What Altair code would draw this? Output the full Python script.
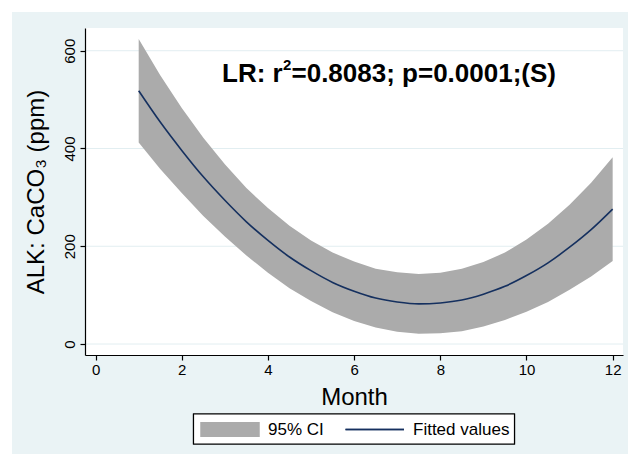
import altair as alt
import pandas as pd

# Quadratic fit of alkalinity against month, with its 95% confidence band
months = [1, 1.5, 2, 2.5, 3, 3.5, 4, 4.5, 5, 5.5, 6, 6.5,
          7, 7.5, 8, 8.5, 9, 9.5, 10, 10.5, 11, 11.5, 12]
fitted = [518, 454, 396, 342, 294, 250, 212, 178, 150, 126, 108, 94,
          86, 82, 84, 90, 102, 118, 140, 166, 198, 234, 276]
ci_upper = [624, 550, 483, 422, 368, 319, 278, 242, 212, 187, 169, 154,
            147, 143, 146, 154, 168, 187, 214, 246, 285, 330, 382]
ci_lower = [412, 358, 309, 262, 220, 181, 146, 114, 88, 65, 47, 34,
            25, 21, 22, 26, 36, 49, 66, 86, 111, 138, 170]

x_ticks = [0, 2, 4, 6, 8, 10, 12]
y_ticks = [0, 200, 400, 600]
legend_labels = ["95% CI", "Fitted values"]
# regression summary, split so the exponent can be raised
stat_parts = ["LR: r", "2", "=0.8083; p=0.0001;(S)"]

W, H = 538, 327
FONT = "Liberation Sans"
BG = "#EAF3F5"
GRID = "#E2EEF1"
BAND = "#ABABAB"
NAVY = "#15305F"

df = pd.DataFrame({"month": months, "fit": fitted, "lo": ci_lower, "hi": ci_upper})
grid_df = pd.DataFrame({"g": y_ticks})

x_scale = alt.Scale(domain=[-0.246, 12.24], nice=False, zero=False)
y_scale = alt.Scale(domain=[-22.5, 646.5], nice=False, zero=False)

x_axis = alt.Axis(values=x_ticks, grid=False, domainColor="black", tickColor="black",
                  tickSize=5, labelFontSize=15, labelColor="black", labelFont=FONT,
                  labelPadding=2, title="Month", titleFontSize=24, titleFont=FONT,
                  titleFontWeight="normal", titleColor="black", titleX=W / 2, titleY=49,
                  titleBaseline="alphabetic", zindex=1, domainWidth=1.2, tickWidth=1.2)
y_axis = alt.Axis(values=y_ticks, grid=False, domainColor="black", tickColor="black",
                  tickSize=5, labelFontSize=15, labelColor="black", labelFont=FONT,
                  labelAngle=270, labelPadding=3, title="ALK: CaCO₃ (ppm)",
                  titleFontSize=24, titleFont=FONT, titleFontWeight="normal",
                  titleColor="black", titleAngle=270, titleX=-42, titleY=H / 2,
                  titleAlign="center", titleBaseline="alphabetic", zindex=1,
                  domainWidth=1.2, tickWidth=1.2)

base = alt.Chart(df)

# light graph region and white plot region
bg = base.mark_rect(color=BG, clip=False).encode(
    x=alt.value(-73), x2=alt.value(543), y=alt.value(-16), y2=alt.value(426))
plot_bg = base.mark_rect(color="white").encode(
    x=alt.value(0), x2=alt.value(W), y=alt.value(0), y2=alt.value(H))

band = base.mark_area(color=BAND, opacity=1).encode(
    x=alt.X("month:Q", scale=x_scale, axis=x_axis),
    y=alt.Y("lo:Q", scale=y_scale, axis=y_axis),
    y2="hi:Q")

grid = alt.Chart(grid_df).mark_rule(color=GRID, strokeWidth=1).encode(
    y=alt.Y("g:Q", scale=y_scale, axis=y_axis))

line = base.mark_line(color=NAVY, strokeWidth=1.6, interpolate="monotone").encode(
    x=alt.X("month:Q", scale=x_scale, axis=x_axis),
    y=alt.Y("fit:Q", scale=y_scale, axis=y_axis))


def text_at(s, x, y, size, bold=False, align="left", baseline="alphabetic"):
    return alt.Chart(pd.DataFrame({"t": [s]})).mark_text(
        font=FONT, fontSize=size, fontWeight="bold" if bold else "normal",
        color="black", align=align, baseline=baseline, clip=False
    ).encode(x=alt.value(x), y=alt.value(y), text="t:N")


stat = (text_at(stat_parts[0], 137, 54, 26, bold=True)
        + text_at(stat_parts[1], 198, 42, 15, bold=True)
        + text_at(stat_parts[2], 206.5, 54, 26, bold=True))

# legend box with swatch, line key and labels
leg_df = pd.DataFrame({"label": legend_labels})
leg_box = alt.Chart(leg_df).mark_rect(fill="white", stroke="black", strokeWidth=1.2,
                                      clip=False).encode(
    x=alt.value(108.5), x2=alt.value(429.5), y=alt.value(386), y2=alt.value(416))
leg_swatch = alt.Chart(leg_df).mark_rect(color=BAND, clip=False).encode(
    x=alt.value(115.5), x2=alt.value(174.5), y=alt.value(394), y2=alt.value(409))
leg_line = alt.Chart(leg_df).mark_rule(color=NAVY, strokeWidth=1.6, clip=False).encode(
    x=alt.value(260.5), x2=alt.value(319), y=alt.value(401.5))
leg_text = (text_at(legend_labels[0], 183, 402, 17, baseline="middle")
            + text_at(legend_labels[1], 328, 402, 17, baseline="middle"))

chart = alt.layer(
    bg, plot_bg, grid, band, line, stat,
    leg_box, leg_swatch, leg_line, leg_text
).properties(
    width=W, height=H,
    autosize=alt.AutoSizeParams(type="none"),
    padding={"left": 85, "top": 28, "right": 9, "bottom": 105},
    background="white",
).configure_view(stroke=None, fill="white")

chart.save("out.html", embed_options={"renderer": "svg", "actions": False})
